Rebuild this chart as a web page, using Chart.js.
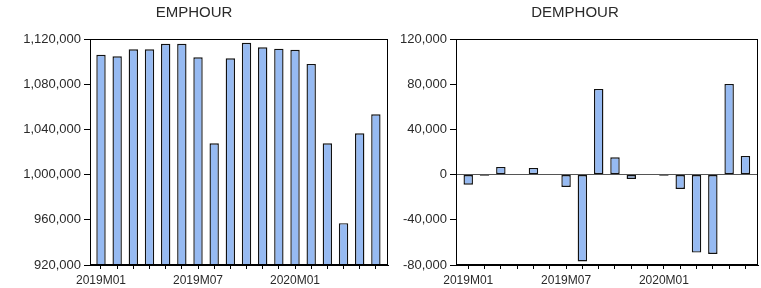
<!DOCTYPE html>
<html>
<head>
<meta charset="utf-8">
<script src="https://cdn.jsdelivr.net/npm/chart.js@4/dist/chart.umd.min.js"></script>
<style>
  html, body { margin: 0; padding: 0; background: #fff; }
  #wrap { position: relative; width: 761px; height: 288px; }
  canvas { position: absolute; top: 0; }
</style>
</head>
<body>
<div id="wrap">
  <canvas id="c1" width="392" height="288" style="left:0"></canvas>
  <canvas id="c2" width="369" height="288" style="left:392px"></canvas>
</div>
<script>
const categories = ['2019M01','2019M02','2019M03','2019M04','2019M05','2019M06','2019M07','2019M08','2019M09',
                    '2019M10','2019M11','2019M12','2020M01','2020M02','2020M03','2020M04','2020M05','2020M06'];
const emphour = [1106000, 1104700, 1110900, 1110900, 1115800, 1115800, 1103800, 1027700, 1102900,
                 1116700, 1112600, 1111400, 1110500, 1097900, 1027700, 957000, 1036500, 1053400];
const demphour = [-8900, -1000, 6800, 0, 5900, 0, -10900, -76800, 75800,
                  15300, -3800, 0, -1000, -12700, -69000, -70200, 80200, 16500];
const emphourTicks = [920000, 960000, 1000000, 1040000, 1080000, 1120000];
const demphourTicks = [-80000, -40000, 0, 40000, 80000, 120000];
const xTickLabels = ['2019M01', '2019M07', '2020M01'];

const FONT = 'Liberation Sans, Arial, sans-serif';
const TEXT = '#2a2a2a';
const BAR_FILL = 'rgb(150,186,242)';
const BAR_LINE = '#111';

const framePlugin = {
  id: 'frame',
  afterDraw(chart) {
    const a = chart.chartArea, ctx = chart.ctx;
    ctx.save();
    ctx.strokeStyle = '#000';
    ctx.lineWidth = 1;
    const l = Math.round(a.left) + 0.5, t = Math.round(a.top) + 0.5;
    const r = Math.round(a.right) - 0.5, b = Math.round(a.bottom) - 0.5;
    ctx.strokeRect(l, t, r - l, b - t);
    ctx.restore();
  }
};

function makeChart(id, title, values, yTicks, yMin, yMax, yWidth, padRight, xPadL, xPadR, zeroLine) {
  return new Chart(document.getElementById(id), {
    type: 'bar',
    data: {
      datasets: [{
        data: values.map((v, i) => ({ x: i, y: v })),
        backgroundColor: BAR_FILL,
        borderColor: BAR_LINE,
        borderWidth: 1.4,
        borderSkipped: false,
        categoryPercentage: 1,
        barPercentage: 0.58
      }]
    },
    options: {
      responsive: false,
      animation: false,
      devicePixelRatio: 1,
      layout: { padding: { left: 0, right: padRight, top: 0, bottom: 0 } },
      plugins: {
        legend: { display: false },
        tooltip: { enabled: false },
        title: {
          display: true, text: title, color: TEXT,
          font: { family: FONT, size: 15, weight: 'normal' },
          padding: { top: 4, bottom: 17 }
        }
      },
      scales: {
        x: {
          type: 'linear',
          offset: false,
          min: -0.5 - xPadL, max: categories.length - 0.5 + xPadR,
          afterBuildTicks: s => { s.ticks = categories.map((_, i) => ({ value: i })); },
          afterFit: s => { s.height = 23; },
          grid: { offset: false, drawOnChartArea: false, tickLength: 4, color: '#000', tickColor: '#000' },
          border: { display: true, color: '#000' },
          ticks: {
            autoSkip: false, maxRotation: 0, padding: 4, color: TEXT,
            font: { family: FONT, size: 12 },
            callback: v => xTickLabels.includes(categories[v]) ? categories[v] : ''
          }
        },
        y: {
          min: yMin, max: yMax,
          afterBuildTicks: s => { s.ticks = yTicks.map(v => ({ value: v })); },
          afterFit: s => { s.width = yWidth; },
          grid: {
            drawOnChartArea: zeroLine,
            tickLength: 6,
            color: c => (zeroLine && c.tick && c.tick.value === 0) ? '#555' : 'rgba(0,0,0,0)',
            tickColor: '#000'
          },
          border: { display: true, color: '#000' },
          ticks: {
            padding: 3, color: TEXT,
            font: { family: FONT, size: 13 },
            callback: v => Number(v).toLocaleString('en-US')
          }
        }
      }
    },
    plugins: [framePlugin]
  });
}

makeChart('c1', 'EMPHOUR', emphour, emphourTicks, 920000, 1120000, 90, 4, 0.18, 0.25, false);
makeChart('c2', 'DEMPHOUR', demphour, demphourTicks, -80000, 120000, 64, 3, 0.25, 0.27, true);
</script>
</body>
</html>
